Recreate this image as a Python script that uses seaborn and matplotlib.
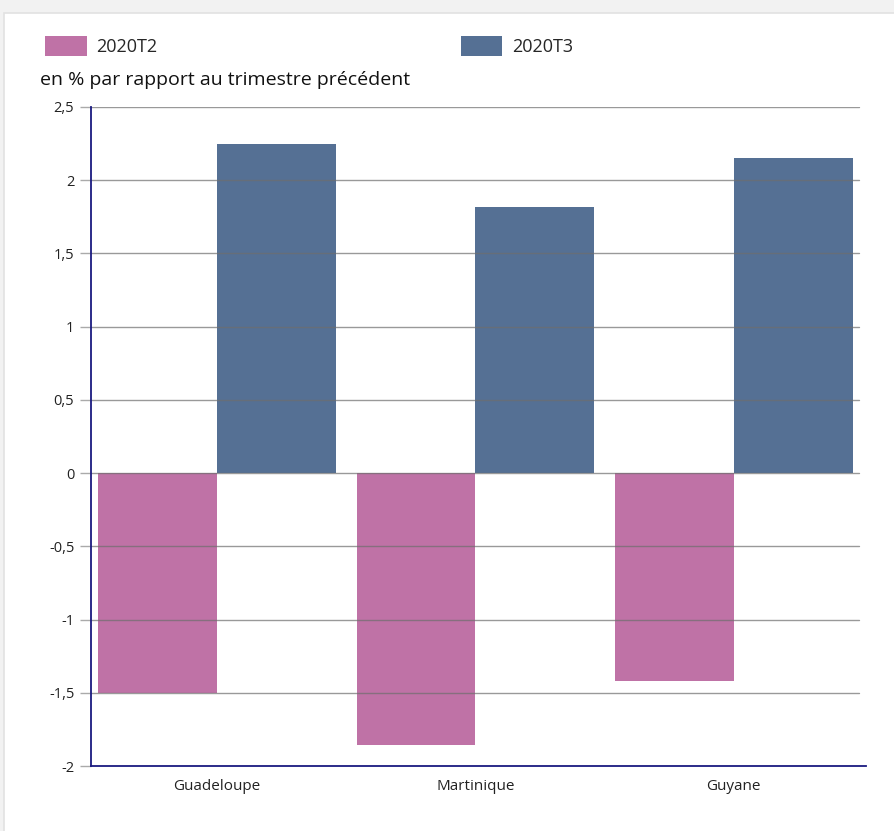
import pandas as pd
import matplotlib
matplotlib.use("Agg")
import matplotlib.pyplot as plt
import seaborn as sns
from matplotlib.patches import Rectangle, Patch
from matplotlib.ticker import FuncFormatter

# données
regions = ["Guadeloupe", "Martinique", "Guyane"]
t2 = [-1.50, -1.86, -1.42]
t3 = [2.25, 1.82, 2.15]
periodes = ["2020T2", "2020T3"]
couleurs = ["#bf72a6", "#557094"]

df = pd.DataFrame({
    "region": regions * 2,
    "periode": [periodes[0]] * 3 + [periodes[1]] * 3,
    "valeur": t2 + t3,
})

sns.set_theme(style="white")
plt.rcParams["font.family"] = ["Open Sans", "DejaVu Sans"]

fig = plt.figure(figsize=(8.94, 8.31), dpi=100, facecolor="#f2f2f2")
# panneau blanc derrière le graphique
fig.patches.append(Rectangle((4 / 894, -0.01), 1.0, 1 - 13 / 831 + 0.01,
                             transform=fig.transFigure, facecolor="white",
                             edgecolor="#e2e2e2", linewidth=1.2, zorder=-5))

ax = fig.add_axes([91 / 894, 1 - 766 / 831, 775 / 894, (766 - 107) / 831])
ax.set_facecolor("none")
ax.set_zorder(2)

sns.barplot(data=df, x="region", y="valeur", hue="periode", palette=couleurs,
            width=0.92, gap=0, saturation=1, linewidth=0, ax=ax, legend=False, zorder=2)

ax.set_xlim(-0.488, 2.512)
ax.set_ylim(-2, 2.5)
ax.set_yticks([-2, -1.5, -1, -0.5, 0, 0.5, 1, 1.5, 2, 2.5])
ax.yaxis.set_major_formatter(FuncFormatter(lambda v, p: f"{v:g}".replace(".", ",")))
for v in ax.get_yticks():
    if v > -2:
        ax.axhline(v, xmin=0, xmax=0.991, color="#6e6e6e", alpha=0.7, lw=1, zorder=3)

ax.set_xlabel("")
ax.set_ylabel("")
ax.tick_params(axis="y", which="both", left=True, length=8, width=1,
               color="#aaaaaa", labelsize=10.5, labelcolor="#222222", pad=4)
ax.tick_params(axis="x", bottom=False, labelsize=11, labelcolor="#222222", pad=3)

for s in ["top", "right"]:
    ax.spines[s].set_visible(False)
for s in ["left", "bottom"]:
    ax.spines[s].set_color("#1a1a80")
    ax.spines[s].set_linewidth(1.3)
    ax.spines[s].set_zorder(4)

fig.text(40 / 894, 1 - 80 / 831, "en % par rapport au trimestre précédent",
         fontsize=14, color="#111111", va="center", ha="left")

handles = [Patch(facecolor=c, edgecolor="none") for c in couleurs]
fig.legend(handles, periodes, loc="center left", bbox_to_anchor=(45 / 894, 1 - 46 / 831),
           ncol=2, frameon=False, fontsize=13, handlelength=2.3, handleheight=1.4,
           handletextpad=0.55, columnspacing=16.8, borderaxespad=0, borderpad=0)

fig.savefig("out.png", dpi=100, facecolor=fig.get_facecolor())
